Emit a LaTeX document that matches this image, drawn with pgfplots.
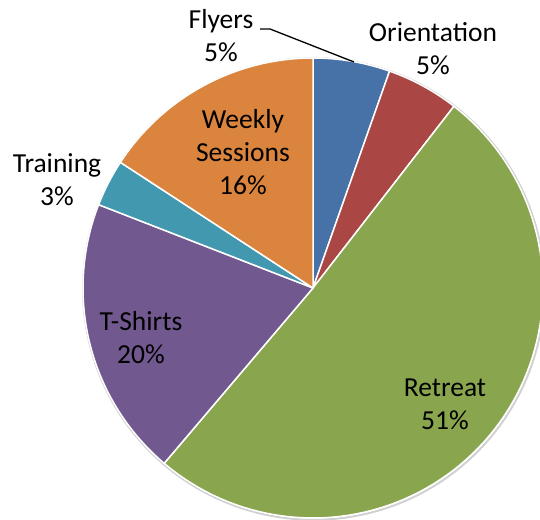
\documentclass[border=0pt]{standalone}
\usepackage{pgfplots}
\usepackage{pgfplotstable}
\pgfplotsset{compat=1.18}
\usepackage{fontspec}
\setmainfont{Carlito}
\definecolor{cFly}{HTML}{4672A8}
\definecolor{cOri}{HTML}{AA4643}
\definecolor{cRet}{HTML}{89A54E}
\definecolor{cTsh}{HTML}{71588F}
\definecolor{cTra}{HTML}{4198AF}
\definecolor{cWee}{HTML}{DB843D}
\pgfplotstableread{
label value
Flyers 5.4
Orientation 5.1
Retreat 50.7
TShirts 19.7
Training 3.3
Weekly 15.8
}\piedata
\begin{document}
\begin{tikzpicture}
\def\cx{313}\def\cy{231}\def\R{230}
\pgfplotstablegetelem{0}{value}\of\piedata\let\vA\pgfplotsretval
\pgfplotstablegetelem{1}{value}\of\piedata\let\vB\pgfplotsretval
\pgfplotstablegetelem{2}{value}\of\piedata\let\vC\pgfplotsretval
\pgfplotstablegetelem{3}{value}\of\piedata\let\vD\pgfplotsretval
\pgfplotstablegetelem{4}{value}\of\piedata\let\vE\pgfplotsretval
\pgfplotstablegetelem{5}{value}\of\piedata\let\vF\pgfplotsretval
\pgfmathsetmacro\aO{90}
\pgfmathsetmacro\aA{\aO-3.6*\vA}
\pgfmathsetmacro\aB{\aA-3.6*\vB}
\pgfmathsetmacro\aC{\aB-3.6*\vC}
\pgfmathsetmacro\aD{\aC-3.6*\vD}
\pgfmathsetmacro\aE{\aD-3.6*\vE}
\pgfmathsetmacro\aF{\aE-3.6*\vF}
\newcommand\slice[3]{%
  \addplot[fill=#3, draw=white, line width=1.5pt, line join=round, domain=#2:#1, samples=90, variable=\t]
    ({\cx+\R*cos(t)},{\cy+\R*sin(t)}) -- (axis cs:\cx,\cy) -- cycle;}
\begin{axis}[
  name=ax,
  width=540pt, height=519pt, scale only axis,
  xmin=0, xmax=540, ymin=0, ymax=519,
  hide axis,
  font=\fontsize{27.5}{33}\selectfont,
]
\addplot[draw=black!18, line width=2pt, domain=0:360, samples=180, variable=\t]
  ({\cx+0.8+(\R+0.8)*cos(t)},{\cy-1+(\R+0.8)*sin(t)});
\slice{\aO}{\aA}{cFly}
\slice{\aA}{\aB}{cOri}
\slice{\aB}{\aC}{cRet}
\slice{\aC}{\aD}{cTsh}
\slice{\aD}{\aE}{cTra}
\slice{\aE}{\aF}{cWee}
\draw[black, line width=1.3pt] (axis cs:260,490) -- (axis cs:270,490) -- (axis cs:354,457);
\node[align=center, inner sep=0pt] at (axis cs:221,483) {Flyers\\5\%};
\node[align=center, inner sep=0pt] at (axis cs:433,470) {Orientation\\5\%};
\node[align=center, inner sep=0pt] at (axis cs:243,367) {Weekly\\Sessions\\16\%};
\node[align=center, inner sep=0pt] at (axis cs:57,339) {Training\\3\%};
\node[align=center, inner sep=0pt] at (axis cs:141,181) {T-Shirts\\20\%};
\node[align=center, inner sep=0pt] at (axis cs:445,115) {Retreat\\51\%};
\end{axis}
\pgfresetboundingbox
\path[use as bounding box] (ax.south west) rectangle (ax.north east);
\end{tikzpicture}
\end{document}
